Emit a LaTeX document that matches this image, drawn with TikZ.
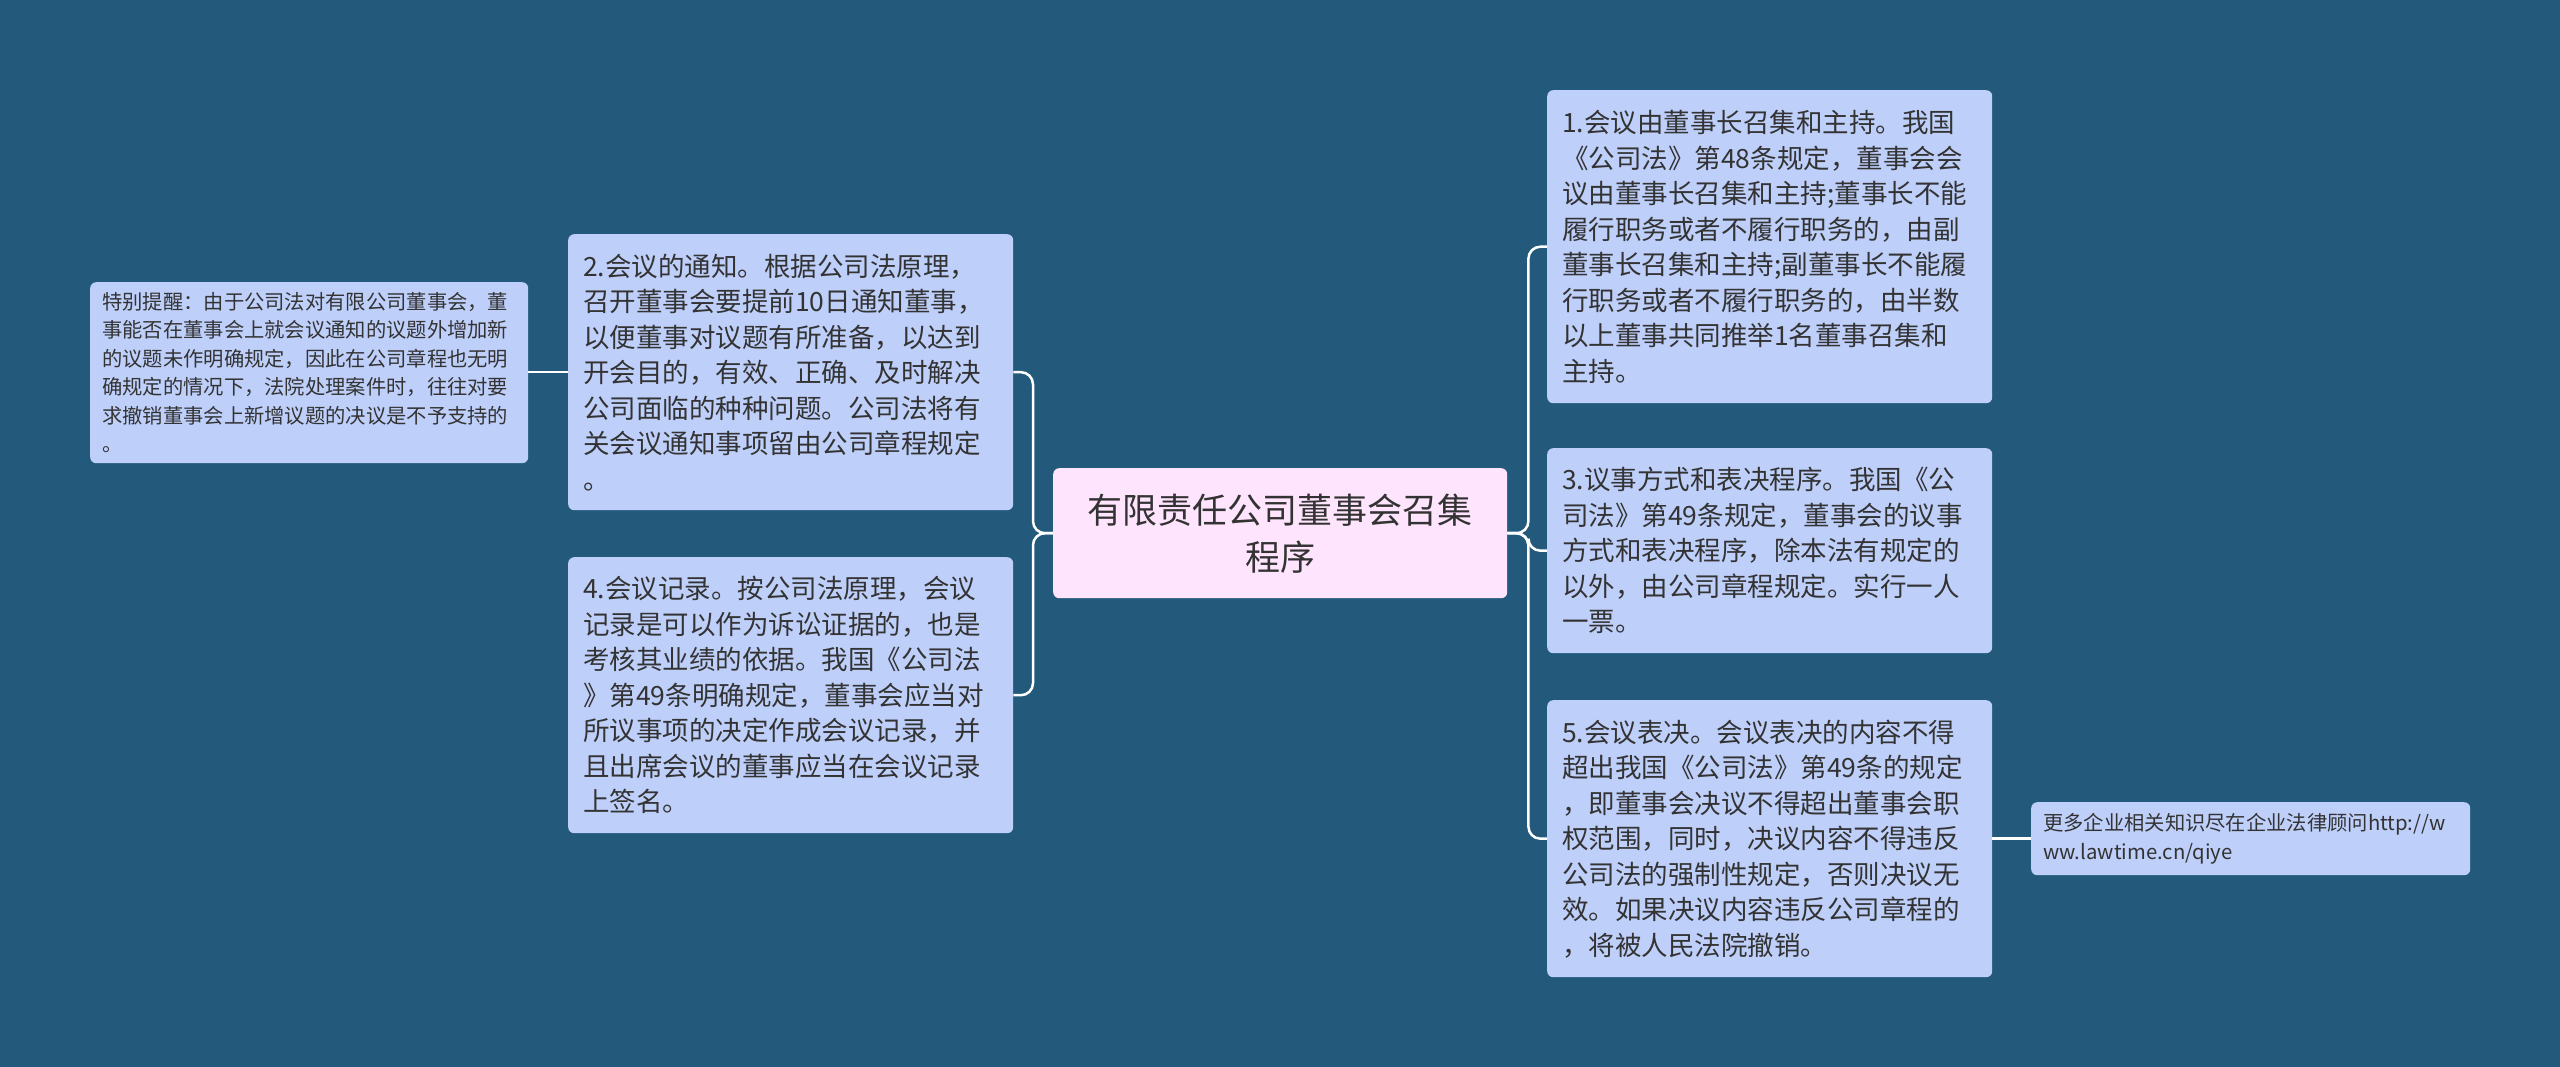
\documentclass[tikz,border=0pt]{standalone}
\usepackage{fontspec}
\setmainfont{Noto Sans CJK SC}
\usepackage{tikz}

\definecolor{bgblue}{HTML}{235A7C}
\definecolor{boxblue}{HTML}{BECFFA}
\definecolor{rootpink}{HTML}{FFE4FD}
\definecolor{inkgrey}{HTML}{333333}

\tikzset{
  topic/.style={anchor=north west, fill=boxblue, rounded corners=6pt,
    text=inkgrey, align=left, inner xsep=15pt, inner ysep=0pt,
    font=\fontsize{26.5}{35.5}\selectfont},
  smalltopic/.style={topic, inner xsep=12pt, font=\fontsize{20.3}{28.5}\selectfont},
  link/.style={draw=white, line width=2.5pt, rounded corners=12pt}
}

\begin{document}
\begin{tikzpicture}[x=1pt, y=-1pt]
\fill[bgblue] (0,0) rectangle (2560,1067);
\useasboundingbox (0,0) rectangle (2560,1067);

% central topic
\node[anchor=north west, fill=rootpink, rounded corners=6pt, text=inkgrey,
  align=center, minimum width=454pt, minimum height=130pt, inner sep=0pt,
  font=\fontsize{35}{47}\selectfont] (root) at (1053,468)
  {有限责任公司董事会召集\\程序};

% left branches
\node[topic, text width=415pt, minimum height=276pt] (notice) at (568,234)
  {2.会议的通知。根据公司法原理，\\召开董事会要提前10日通知董事，\\以便董事对议题有所准备，以达到\\开会目的，有效、正确、及时解决\\公司面临的种种问题。公司法将有\\关会议通知事项留由公司章程规定\\。};
\node[topic, text width=415pt, minimum height=276pt] (minutes) at (568,557)
  {4.会议记录。按公司法原理，会议\\记录是可以作为诉讼证据的，也是\\考核其业绩的依据。我国《公司法\\》第49条明确规定，董事会应当对\\所议事项的决定作成会议记录，并\\且出席会议的董事应当在会议记录\\上签名。};
\node[smalltopic, text width=414pt, minimum height=181pt] (tip) at (90,282)
  {特别提醒：由于公司法对有限公司董事会，董\\事能否在董事会上就会议通知的议题外增加新\\的议题未作明确规定，因此在公司章程也无明\\确规定的情况下，法院处理案件时，往往对要\\求撤销董事会上新增议题的决议是不予支持的\\。};

% right branches
\node[topic, text width=415pt, minimum height=313pt] (chair) at (1547,90)
  {1.会议由董事长召集和主持。我国\\《公司法》第48条规定，董事会会\\议由董事长召集和主持;董事长不能\\履行职务或者不履行职务的，由副\\董事长召集和主持;副董事长不能履\\行职务或者不履行职务的，由半数\\以上董事共同推举1名董事召集和\\主持。};
\node[topic, text width=415pt, minimum height=205pt] (rules) at (1547,448)
  {3.议事方式和表决程序。我国《公\\司法》第49条规定，董事会的议事\\方式和表决程序，除本法有规定的\\以外，由公司章程规定。实行一人\\一票。};
\node[topic, text width=415pt, minimum height=277pt] (voting) at (1547,700)
  {5.会议表决。会议表决的内容不得\\超出我国《公司法》第49条的规定\\，即董事会决议不得超出董事会职\\权范围，同时，决议内容不得违反\\公司法的强制性规定，否则决议无\\效。如果决议内容违反公司章程的\\，将被人民法院撤销。};
\node[smalltopic, text width=415pt, minimum height=73pt] (lawtime) at (2031,802)
  {更多企业相关知识尽在企业法律顾问http://w\\ww.lawtime.cn/qiye};

% connectors
\draw[link] (root.west) -- ++(-20,0) |- (notice.east);
\draw[link] (root.west) -- ++(-20,0) |- (minutes.east);
\draw[link] (notice.west) -- (tip.east |- notice.west);
\draw[link] (root.east) -- ++(21,0) |- (chair.west);
\draw[link] (root.east) -- ++(21,0) |- (rules.west);
\draw[link] (root.east) -- ++(21,0) |- (voting.west);
\draw[link] (voting.west -| voting.east) -- (lawtime.west |- voting.east);
\end{tikzpicture}
\end{document}
